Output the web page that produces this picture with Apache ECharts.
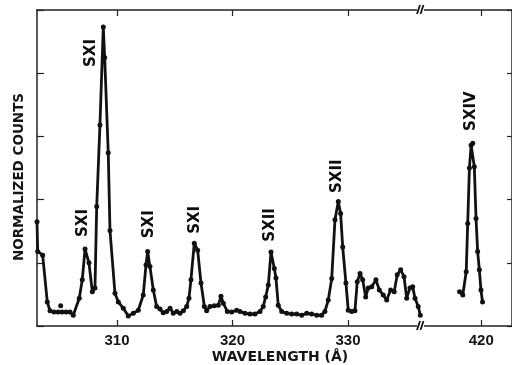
<!DOCTYPE html>
<html>
<head>
<meta charset="utf-8">
<script src="https://cdn.jsdelivr.net/npm/echarts@6/dist/echarts.min.js"></script>
<style>
html,body{margin:0;padding:0;background:#fff;}
#chart{width:512px;height:365px;}
</style>
</head>
<body>
<div id="chart"></div>
<script>
// Wavelength (Å) and normalized counts, 303-337 Å segment
const lambdaA = [303.07,303.13,303.56,303.96,304.20,304.54,304.89,305.23,305.58,305.93,306.21,306.73,306.99,307.23,307.57,307.86,308.09,308.24,308.52,308.81,308.93,309.24,309.39,309.82,310.11,310.54,310.97,311.41,311.84,312.27,312.51,312.65,312.85,313.14,313.43,313.72,314.00,314.30,314.59,314.87,315.17,315.45,315.74,316.03,316.23,316.40,316.69,316.98,317.27,317.56,317.76,318.05,318.42,318.77,319.00,319.20,319.55,319.93,320.36,320.65,321.08,321.51,321.94,322.38,322.66,322.87,323.10,323.33,323.62,323.76,323.96,324.26,324.69,325.12,325.56,325.99,326.42,326.85,327.29,327.72,328.00,328.29,328.59,328.87,329.16,329.36,329.54,329.82,330.02,330.32,330.60,330.80,331.04,331.27,331.53,331.75,332.05,332.42,332.71,333.05,333.35,333.69,334.00,334.26,334.56,334.85,335.08,335.36,335.60,335.80,336.08,336.26];
const countsA = [1.65,1.18,1.12,0.38,0.24,0.22,0.22,0.22,0.22,0.22,0.17,0.44,0.73,1.22,1.00,0.54,0.60,1.89,3.18,4.73,4.25,2.74,1.51,0.52,0.38,0.28,0.16,0.20,0.25,0.49,0.97,1.18,0.94,0.57,0.31,0.27,0.21,0.23,0.28,0.20,0.23,0.20,0.24,0.31,0.44,0.73,1.31,1.20,0.68,0.31,0.24,0.31,0.32,0.33,0.47,0.36,0.23,0.22,0.25,0.23,0.20,0.19,0.19,0.23,0.31,0.46,0.65,1.17,0.91,0.76,0.33,0.23,0.20,0.19,0.19,0.17,0.20,0.19,0.17,0.17,0.23,0.41,0.75,1.68,1.97,1.78,1.25,0.68,0.25,0.23,0.24,0.70,0.83,0.73,0.46,0.60,0.62,0.73,0.57,0.49,0.41,0.57,0.54,0.81,0.89,0.78,0.44,0.60,0.62,0.44,0.31,0.17];
// 418-420 Å segment (SXIV)
const lambdaB = [418.10,418.38,418.68,418.81,418.96,419.11,419.25,419.39,419.54,419.68,419.83,419.97,420.11];
const countsB = [0.54,0.49,0.86,1.62,2.50,2.86,2.89,2.52,1.70,1.18,0.89,0.57,0.38];
// isolated point
const strayLambda = [305.12];
const strayCounts = [0.32];
// tick labels
const ticksA = [310, 320, 330];
const ticksB = [420];
const yTicks = [0, 1, 2, 3, 4, 5];
// line identifications
const idTextA = ['SXI','SXI','SXI','SXI','SXII','SXII'];
const idLambdaA = [307.05,307.75,312.77,316.75,323.24,329.04];
const idCountA = [1.63,4.32,1.61,1.68,1.60,2.37];
const idTextB = ['SXIV'];
const idLambdaB = [419.13];
const idCountB = [3.40];

const INK = '#111111';
const axisLine = {show:true, lineStyle:{color:'#222', width:1.5}};
const tickFont = {fontFamily:'Liberation Sans', fontSize:15, fontWeight:'bold', color:'#151515'};
const idLabel = {show:true, position:'inside', rotate:90, formatter:'{b}', fontFamily:'DejaVu Sans',
  fontWeight:'bold', fontSize:15, color:'#0d0d0d', opacity:1};

function pairs(xs, ys){ return xs.map((x,i)=>[x, ys[i]]); }
function idData(xs, ys, ts){ return xs.map((x,i)=>({value:[x, ys[i]], name:ts[i]})); }

const chart = echarts.init(document.getElementById('chart'), null, {renderer:'canvas'});
const yBase = {type:'value', min:0, max:5, interval:1, axisLabel:{show:false}, splitLine:{show:false}};
chart.setOption({
  backgroundColor:'#ffffff',
  animation:false,
  grid:[
    {left:37, top:10, width:384, height:316},
    {left:421, top:10, width:92, height:316}
  ],
  xAxis:[
    {type:'value', gridIndex:0, position:'bottom', min:303.07, max:336.32,
     axisLine:axisLine, splitLine:{show:false},
     axisTick:{show:true, inside:true, length:6, customValues:ticksA, lineStyle:{color:'#222', width:1.2}},
     axisLabel:Object.assign({show:true, margin:7, customValues:ticksA}, tickFont)},
    {type:'value', gridIndex:0, position:'top', min:303.07, max:336.32,
     axisLine:axisLine, splitLine:{show:false},
     axisTick:{show:true, inside:true, length:6, customValues:ticksA, lineStyle:{color:'#222', width:1.2}},
     axisLabel:{show:false}},
    {type:'value', gridIndex:1, position:'bottom', min:414.72, max:422.69,
     axisLine:axisLine, splitLine:{show:false},
     axisTick:{show:true, inside:true, length:6, customValues:ticksB, lineStyle:{color:'#222', width:1.2}},
     axisLabel:Object.assign({show:true, margin:7, customValues:ticksB}, tickFont)},
    {type:'value', gridIndex:1, position:'top', min:414.72, max:422.69,
     axisLine:axisLine, splitLine:{show:false},
     axisTick:{show:true, inside:true, length:6, customValues:ticksB, lineStyle:{color:'#222', width:1.2}},
     axisLabel:{show:false}}
  ],
  yAxis:[
    Object.assign({}, yBase, {gridIndex:0, position:'left', axisLine:axisLine,
      axisTick:{show:true, inside:true, length:7, customValues:yTicks, lineStyle:{color:'#222', width:1.2}}}),
    Object.assign({}, yBase, {gridIndex:1, position:'right', axisLine:axisLine,
      axisTick:{show:true, inside:true, length:5, customValues:yTicks, lineStyle:{color:'#222', width:1.2}}})
  ],
  series:[
    {type:'line', xAxisIndex:0, yAxisIndex:0, data:pairs(lambdaA, countsA),
     symbol:'circle', symbolSize:5, showSymbol:true, itemStyle:{color:INK},
     lineStyle:{color:INK, width:2.8}, z:3},
    {type:'line', xAxisIndex:2, yAxisIndex:1, data:pairs(lambdaB, countsB),
     symbol:'circle', symbolSize:5, showSymbol:true, itemStyle:{color:INK},
     lineStyle:{color:INK, width:2.8}, z:3},
    {type:'scatter', xAxisIndex:0, yAxisIndex:0, data:pairs(strayLambda, strayCounts),
     symbol:'circle', symbolSize:5, itemStyle:{color:INK, opacity:1}},
    {type:'scatter', xAxisIndex:0, yAxisIndex:0, data:idData(idLambdaA, idCountA, idTextA),
     symbolSize:0, silent:true, itemStyle:{opacity:1}, label:idLabel},
    {type:'scatter', xAxisIndex:2, yAxisIndex:1, data:idData(idLambdaB, idCountB, idTextB),
     symbolSize:0, silent:true, itemStyle:{opacity:1}, label:idLabel}
  ],
  graphic:[
    {type:'text', x:280, y:357, style:{text:'WAVELENGTH (Å)', align:'center', verticalAlign:'middle',
      font:'bold 14px "DejaVu Sans"', fill:'#151515'}},
    {type:'text', x:19, y:177, rotation:Math.PI/2, style:{text:'NORMALIZED COUNTS', align:'center', verticalAlign:'middle',
      font:'bold 13.5px "DejaVu Sans"', fill:'#151515'}},
    // axis-break marks
    {type:'rect', shape:{x:417, y:322, width:7, height:8}, style:{fill:'#fff'}, z:50},
    {type:'line', shape:{x1:417, y1:330, x2:420, y2:321}, style:{stroke:'#111', lineWidth:1.8}, z:51},
    {type:'line', shape:{x1:420.5, y1:330, x2:423.5, y2:321}, style:{stroke:'#111', lineWidth:1.8}, z:51},
    {type:'rect', shape:{x:417, y:6, width:7, height:8}, style:{fill:'#fff'}, z:50},
    {type:'line', shape:{x1:417, y1:14, x2:420, y2:5}, style:{stroke:'#111', lineWidth:1.8}, z:51},
    {type:'line', shape:{x1:420.5, y1:14, x2:423.5, y2:5}, style:{stroke:'#111', lineWidth:1.8}, z:51}
  ]
});
</script>
</body>
</html>
